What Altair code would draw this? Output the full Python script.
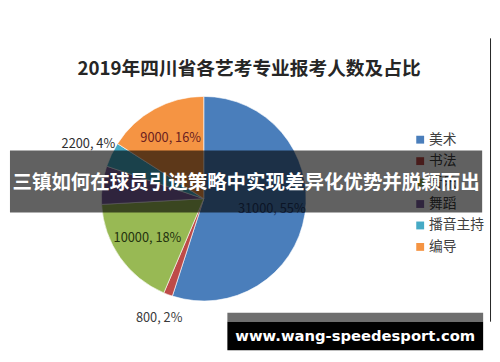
import altair as alt
import pandas as pd

# ---- data ----
categories = ["美术", "书法", "音乐", "舞蹈", "播音主持", "编导"]
counts = [31000, 800, 10000, 3400, 2200, 9000]
percents = [55, 2, 18, 6, 4, 16]
show_label = [True, True, True, False, True, True]
label_outside = [False, True, False, False, True, False]

colors = ["#4A7EBB", "#BE4B48", "#98B954", "#7D60A0", "#46AAC5", "#F59443"]
label_colors = ["#1F3864", "#3A3A3A", "#24330F", "#000000", "#2E2E2E", "#6B2121"]

title_text = "2019年四川省各艺考专业报考人数及占比"
banner_text = "三镇如何在球员引进策略中实现差异化优势并脱颖而出"
watermark_text = "www.wang-speedesport.com"

FONT = "Noto Sans CJK SC"

labels = [f"{c}, {p}%" if s else "" for c, p, s in zip(counts, percents, show_label)]
df = pd.DataFrame({
    "category": categories,
    "count": counts,
    "idx": list(range(len(categories))),
    "in_label": [l if not o else "" for l, o in zip(labels, label_outside)],
    "out_label": [l if o else "" for l, o in zip(labels, label_outside)],
    "lcolor": label_colors,
})

W, H = 492, 346
cx, cy, R = 199, 191, 104

color_enc = alt.Color("category:N", scale=alt.Scale(domain=categories, range=colors),
                      sort=categories, legend=None)

base = alt.Chart(df).encode(
    theta=alt.Theta("count:Q", stack=True),
    order=alt.Order("idx:Q", sort="ascending"),
    x=alt.value(cx), y=alt.value(cy),
)

pie = base.mark_arc(outerRadius=R, stroke="white", strokeWidth=0.6).encode(color=color_enc)

in_text = base.mark_text(radius=70, font=FONT, fontSize=13).encode(
    text="in_label:N", fill=alt.Fill("lcolor:N", scale=None))
out_text = base.mark_text(radius=130, font=FONT, fontSize=13).encode(
    text="out_label:N", fill=alt.Fill("lcolor:N", scale=None))

# legend drawn as marks
leg_base = alt.Chart(df).encode(
    y=alt.Y("idx:Q", scale=alt.Scale(domain=[0, 5], range=[131, 240]), axis=None))
leg_sq = leg_base.mark_square(size=64, opacity=1).encode(x=alt.value(419), color=color_enc)
leg_txt = leg_base.mark_text(align="left", baseline="middle", font=FONT, fontSize=14,
                             color="#404040").encode(x=alt.value(428), text="category:N")

one = pd.DataFrame({"a": [0]})
title = alt.Chart(one).mark_text(font=FONT, fontSize=19, fontWeight="bold", color="#262626",
                                 align="center", baseline="middle").encode(
    x=alt.value(245), y=alt.value(59), text=alt.value(title_text))

frame_line = alt.Chart(one).mark_rule(color="#222222", strokeWidth=1).encode(
    x=alt.value(490.5), y=alt.value(28), y2=alt.value(316))

banner = alt.Chart(one).mark_rect(color="black", opacity=0.62).encode(
    x=alt.value(2), x2=alt.value(482), y=alt.value(142), y2=alt.value(205))
banner_t = alt.Chart(one).mark_text(font=FONT, fontSize=19.8, fontWeight="bold", color="white",
                                    align="center", baseline="middle").encode(
    x=alt.value(242), y=alt.value(175), text=alt.value(banner_text))

wm_strip = alt.Chart(one).mark_rect(color="#6E6E6E").encode(
    x=alt.value(223), x2=alt.value(483), y=alt.value(307), y2=alt.value(316))
wm_box = alt.Chart(one).mark_rect(color="black").encode(
    x=alt.value(223), x2=alt.value(483), y=alt.value(316), y2=alt.value(345))
wm_text = alt.Chart(one).mark_text(font="DejaVu Sans", fontSize=15, fontWeight="bold",
                                   color="white", align="center", baseline="middle").encode(
    x=alt.value(353), y=alt.value(331), text=alt.value(watermark_text))

chart = alt.layer(
    pie, in_text, out_text, leg_sq, leg_txt, title, frame_line,
    banner, banner_t, wm_strip, wm_box, wm_text,
).properties(
    width=W, height=H, autosize=alt.AutoSizeParams(type="none"), padding=0,
    background="white",
).configure_view(stroke=None)

chart.save("out.html", embed_options={"renderer": "svg", "actions": False})
